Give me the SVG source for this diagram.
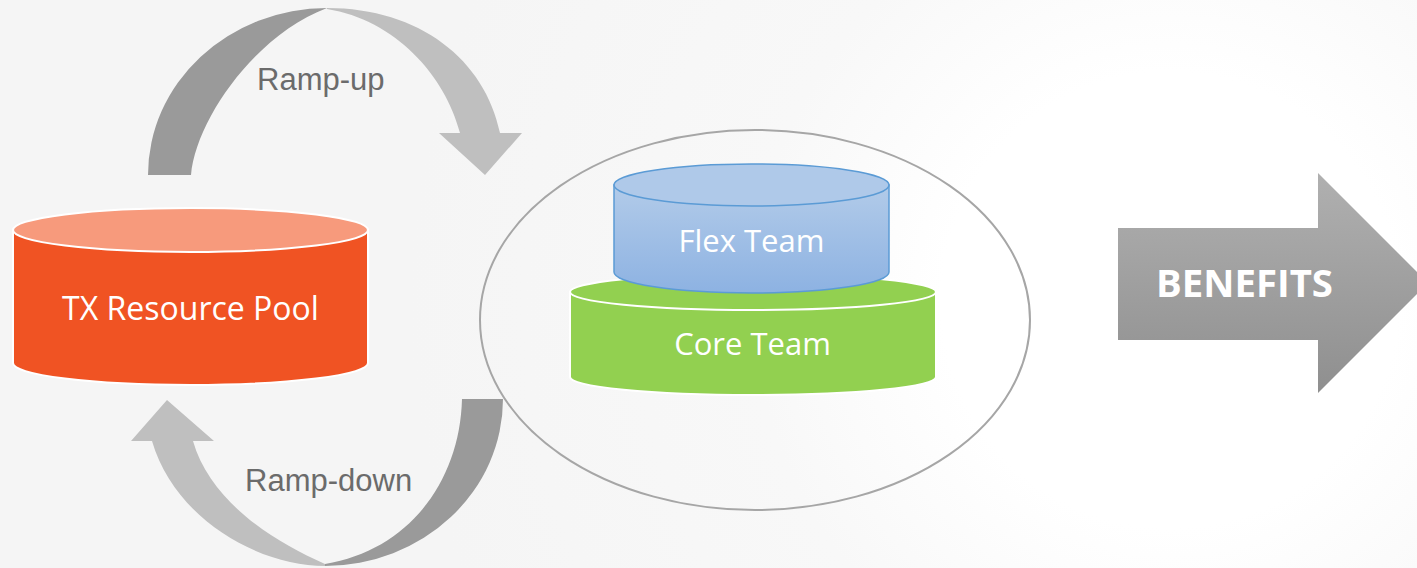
<svg xmlns="http://www.w3.org/2000/svg" width="1417" height="568" viewBox="0 0 1417 568">
<defs>
<radialGradient id="bg" cx="1170" cy="300" r="760" gradientUnits="userSpaceOnUse">
<stop offset="0" stop-color="#ffffff"/>
<stop offset="0.3" stop-color="#ffffff"/>
<stop offset="0.55" stop-color="#f8f8f8"/>
<stop offset="1" stop-color="#f5f5f5"/>
</radialGradient>
<linearGradient id="flex" x1="0" y1="0" x2="0" y2="1">
<stop offset="0" stop-color="#b2cbe9"/>
<stop offset="1" stop-color="#8db2e2"/>
</linearGradient>
<linearGradient id="ben" x1="0" y1="0" x2="0" y2="1">
<stop offset="0" stop-color="#b0b0b0"/>
<stop offset="1" stop-color="#8f8f8f"/>
</linearGradient>
<style>
.lbl{font-family:"Liberation Sans",Arial,sans-serif;font-size:31px;fill:#6b6b6b}
.cyl{font-family:"Open Sans","DejaVu Sans",sans-serif;fill:#ffffff;text-anchor:middle}
.dark{fill:#9a9a9a}
.light{fill:#bfbfbf}
</style>
</defs>
<rect x="0" y="0" width="1417" height="568" fill="url(#bg)"/>

<g id="connectors">
<g id="ramp-up">
<path class="dark" d="M148,175 A179,167 0 0 1 327,8 C255,35 196,120 191,175 Z"/>
<path class="light" d="M327,8 C420,8 485,60 500,133 L522,133 L485,175 L439,133 L460,133 C445,75 395,20 327,9 Z"/>
<text class="lbl" x="257" y="90">Ramp-up</text>
</g>
<g id="ramp-down">
<path class="dark" d="M462,399 L503,399 A178,167 0 0 1 325,566 L325,564 C410,550 460,480 462,399 Z"/>
<path class="light" d="M167,400 L214,441 L193,441 C210,500 270,540 325,564 L325,566 C260,566 175,520 152,441 L131,441 Z"/>
<text class="lbl" x="245" y="491">Ramp-down</text>
</g>
</g>

<g id="team-circle">
<ellipse cx="755" cy="320" rx="275" ry="190" fill="none" stroke="#a6a6a6" stroke-width="2"/>
</g>

<g id="tx-pool">
<path d="M13,230 L13,363 A177.5,22 0 0 0 368,363 L368,230 Z" fill="#f05323" stroke="#ffffff" stroke-width="2"/>
<ellipse cx="190.5" cy="230" rx="177.5" ry="22" fill="#f79a7c" stroke="#ffffff" stroke-width="2"/>
<text class="cyl" x="190.5" y="320" font-size="32">TX Resource Pool</text>
</g>

<g id="core-team">
<path d="M570,292 L570,377 A183,18 0 0 0 936,377 L936,292 Z" fill="#92d050" stroke="#ffffff" stroke-width="2"/>
<ellipse cx="753" cy="292" rx="183" ry="18" fill="#92d050" stroke="#ffffff" stroke-width="2"/>
<text class="cyl" x="752.5" y="355" font-size="31">Core Team</text>
</g>

<g id="flex-team">
<path d="M614,185 L614,272 A137.5,21 0 0 0 889,272 L889,185 Z" fill="url(#flex)" stroke="#5b9bd5" stroke-width="1.5"/>
<ellipse cx="751.5" cy="185" rx="137.5" ry="21" fill="#afc9e9" stroke="#5b9bd5" stroke-width="1.5"/>
<text class="cyl" x="751.5" y="252" font-size="31">Flex Team</text>
</g>

<g id="benefits">
<path d="M1118,228 L1318,228 L1318,173 L1428,283 L1318,393 L1318,340 L1118,340 Z" fill="url(#ben)"/>
<text x="1156" y="297" font-family="'Open Sans','DejaVu Sans',sans-serif" font-weight="bold" font-size="37" fill="#ffffff" textLength="177" lengthAdjust="spacingAndGlyphs">BENEFITS</text>
</g>
</svg>
